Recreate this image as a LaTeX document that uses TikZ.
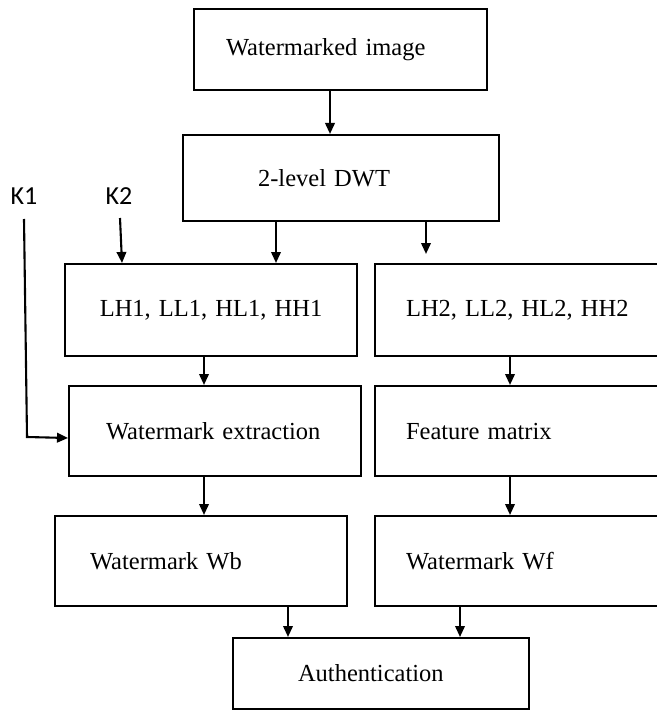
\documentclass[tikz,border=0pt]{standalone}
\usepackage{fontspec}
\setmainfont{Liberation Serif}
\newfontfamily\kfont{Carlito}
\usetikzlibrary{arrows.meta,calc}
\begin{document}
\begin{tikzpicture}[x=1pt,y=-1pt,
  box/.style={draw, line width=2.1pt, anchor=north west, align=left,
    inner ysep=0pt, font=\fontsize{24.5}{28}\selectfont},
  arr/.style={line width=2.1pt, -{Triangle[length=11pt,width=9.5pt]}},
  klabel/.style={font=\kfont\fontsize{26}{30}\selectfont, inner sep=0pt}]
\useasboundingbox (0,0) rectangle (656,711);
% boxes: (x1,y1), width W, height H, pad p  -> text width = W-2p
\node[box, inner xsep=32pt, text width=229pt, minimum height=81pt] (A) at (193,8) {Watermarked image};
\node[box, inner xsep=75pt, text width=166pt, minimum height=86pt] (B) at (182,134) {2-level DWT};
\node[box, align=center, inner xsep=10pt, text width=272pt, minimum height=92pt] (C) at (64,263) {LH1, LL1, HL1, HH1};
\node[box, inner xsep=31pt, text width=254pt, minimum height=92pt] (D) at (374,263) {LH2, LL2, HL2, HH2};
\node[box, inner xsep=37pt, text width=218pt, minimum height=90pt] (E) at (68,385) {Watermark extraction};
\node[box, inner xsep=31pt, text width=254pt, minimum height=90pt] (F) at (374,385) {Feature matrix};
\node[box, inner xsep=35pt, text width=222pt, minimum height=90pt] (G) at (54,515) {Watermark Wb};
\node[box, inner xsep=31pt, text width=254pt, minimum height=90pt] (H) at (374,515) {Watermark Wf};
\node[box, inner xsep=65pt, text width=166pt, minimum height=71pt] (I) at (232,637) {Authentication};
% key labels
\node[klabel] (K1) at (24,196) {K1};
\node[klabel] (K2) at (119,196) {K2};
\coordinate (k1s) at (24,219);
\coordinate (k1c) at (27,437);
\coordinate (k2s) at (120,218);
% connectors
\draw[arr] (330,0 |- A.south) -- (330,0 |- B.north);
\draw[arr] (276,0 |- B.south) -- (276,0 |- C.north);
\draw[arr] (426,0 |- B.south) -- ($(426,0 |- D.north)+(0,-9)$);
\draw[arr] (204,0 |- C.south) -- (204,0 |- E.north);
\draw[arr] (510,0 |- D.south) -- (510,0 |- F.north);
\draw[arr] (204,0 |- E.south) -- (204,0 |- G.north);
\draw[arr] (510,0 |- F.south) -- (510,0 |- H.north);
\draw[arr] (288,0 |- G.south) -- (288,0 |- I.north);
\draw[arr] (460,0 |- H.south) -- (460,0 |- I.north);
\draw[arr] (k2s) -- (122,0 |- C.north);
\draw[arr] (k1s) -- (k1c) -- (E.west |- 0,438);
\end{tikzpicture}
\end{document}
